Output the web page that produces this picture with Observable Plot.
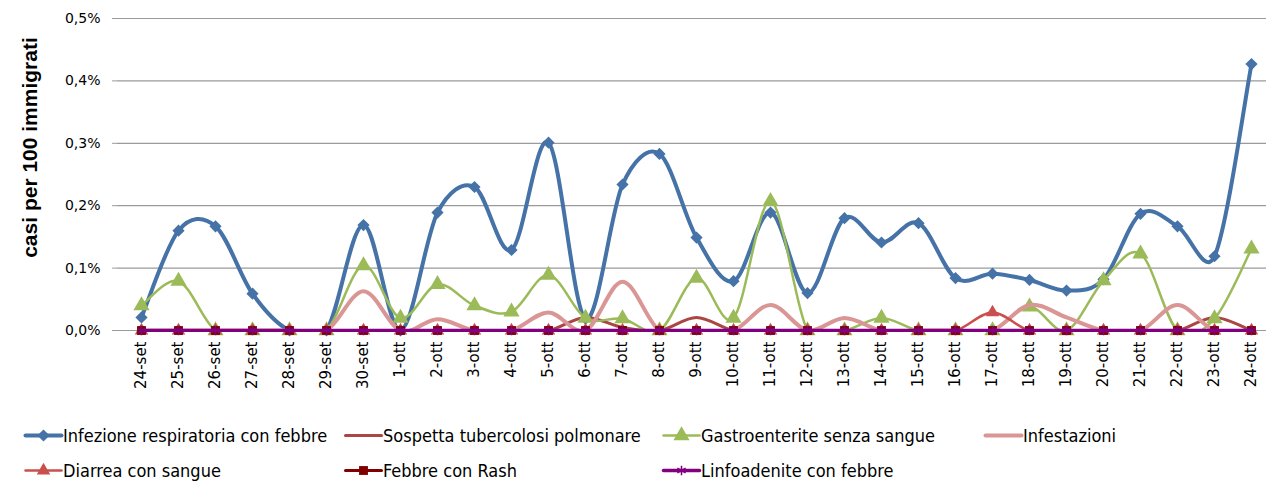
<!DOCTYPE html>
<html>
<head>
<meta charset="utf-8">
<script src="https://cdn.jsdelivr.net/npm/d3@7"></script>
<script src="https://cdn.jsdelivr.net/npm/@observablehq/plot@0.6"></script>
<style>
  html, body { margin: 0; padding: 0; background: #fff; }
  #wrap { position: relative; width: 1266px; height: 481px; overflow: hidden; }
  #chart { position: absolute; left: 0; top: 0; }
  .leg { position: absolute; display: flex; align-items: center; font-family: "Liberation Sans Narrow", "DejaVu Sans Condensed", "Liberation Sans", sans-serif; font-size: 18px; color: #000; white-space: nowrap; }
  .leg svg { margin-right: 2px; }
</style>
</head>
<body>
<div id="wrap">
  <div id="chart"></div>
  <div id="legend"></div>
</div>
<script>
const dates = ["24-set","25-set","26-set","27-set","28-set","29-set","30-set",
  "1-ott","2-ott","3-ott","4-ott","5-ott","6-ott","7-ott","8-ott","9-ott","10-ott",
  "11-ott","12-ott","13-ott","14-ott","15-ott","16-ott","17-ott","18-ott","19-ott","20-ott",
  "21-ott","22-ott","23-ott","24-ott"];

const infezione = [0.021,0.160,0.167,0.059,0,0,0.169,0,0.189,0.230,0.129,0.301,0.019,0.234,0.283,0.149,0.079,0.189,0.060,0.180,0.141,0.172,0.084,0.091,0.081,0.064,0.082,0.187,0.167,0.119,0.427];
const tubercolosi = [0,0,0,0,0,0,0,0,0,0,0,0,0.021,0.005,0,0.021,0,0,0,0,0,0,0,0,0,0,0,0,0,0.021,0];
const gastro = [0.040,0.079,0,0,0,0,0.104,0.020,0.074,0.040,0.030,0.089,0.020,0.019,0,0.084,0.020,0.207,0,0,0.020,0,0,0,0.038,0,0.080,0.123,0,0.019,0.131];
const infestazioni = [0,0,0,0,0,0,0.063,0,0.018,0,0,0.029,0,0.078,0,0,0,0.041,0,0.020,0,0,0,0,0.041,0.021,0,0,0.041,0,0];
const diarrea = [0,0,0,0,0,0,0,0,0,0,0,0,0,0,0,0,0,0,0,0,0,0,0,0.029,0,0,0,0,0,0,0];
const febbreRash = [0,0,0,0,0,0,0,0,0,0,0,0,0,0,0,0,0,0,0,0,0,0,0,0,0,0,0,0,0,0,0];
const linfoadenite = [0,0,0,0,0,0,0,0,0,0,0,0,0,0,0,0,0,0,0,0,0,0,0,0,0,0,0,0,0,0,0];

const yTicks = [0, 0.1, 0.2, 0.3, 0.4, 0.5];

const series = [
  {name: "Infezione respiratoria con febbre", values: infezione, color: "#4572A7", width: 4, symbol: "diamond2", r: 5.5},
  {name: "Sospetta tubercolosi polmonare", values: tubercolosi, color: "#AA4643", width: 3, symbol: null},
  {name: "Gastroenterite senza sangue", values: gastro, color: "#9BBB59", width: 2.5, symbol: "triangle", r: 6},
  {name: "Infestazioni", values: infestazioni, color: "#D99694", width: 4, symbol: null},
  {name: "Diarrea con sangue", values: diarrea, color: "#C9504D", width: 2.5, symbol: "triangle", r: 5},
  {name: "Febbre con Rash", values: febbreRash, color: "#800000", width: 3, symbol: "square", r: 5},
  {name: "Linfoadenite con febbre", values: linfoadenite, color: "#800080", width: 3.5, symbol: "asterisk", r: 4.5}
];

// Excel-like smoothed line: cubic Bezier with control points (P2-P0)/6, capped at half the segment
function ExcelCurve(context) { this._context = context; }
ExcelCurve.prototype = {
  areaStart() {}, areaEnd() {},
  lineStart() { this._pts = []; },
  point(x, y) { this._pts.push([+x, +y]); },
  lineEnd() {
    const p = this._pts, c = this._context, n = p.length;
    if (!n) return;
    c.moveTo(p[0][0], p[0][1]);
    for (let i = 0; i < n - 1; i++) {
      const p0 = p[Math.max(i - 1, 0)], p1 = p[i], p2 = p[i + 1], p3 = p[Math.min(i + 2, n - 1)];
      const half = Math.hypot(p2[0] - p1[0], p2[1] - p1[1]) / 2;
      let ax = (p2[0] - p0[0]) / 6, ay = (p2[1] - p0[1]) / 6;
      let la = Math.hypot(ax, ay); if (la > half) { ax *= half / la; ay *= half / la; }
      let bx = (p3[0] - p1[0]) / 6, by = (p3[1] - p1[1]) / 6;
      let lb = Math.hypot(bx, by); if (lb > half) { bx *= half / lb; by *= half / lb; }
      c.bezierCurveTo(p1[0] + ax, p1[1] + ay, p2[0] - bx, p2[1] - by, p2[0], p2[1]);
    }
  }
};
const excelCurve = ctx => new ExcelCurve(ctx);

const marks = [
  Plot.ruleY(yTicks, {y: d => d, stroke: "#9a9a9a", strokeWidth: 1.2})
];

for (const s of series) {
  const rows = dates.map((d, i) => ({date: d, v: s.values[i]}));
  marks.push(Plot.line(rows, {x: "date", y: "v", stroke: s.color, strokeWidth: s.width, curve: excelCurve, clip: true}));
  if (s.symbol) {
    if (s.symbol === "asterisk") {
      marks.push(Plot.dot(rows, {x: "date", y: "v", symbol: "asterisk", r: s.r, stroke: s.color, strokeWidth: 1.5}));
    } else {
      marks.push(Plot.dot(rows, {x: "date", y: "v", symbol: s.symbol, r: s.r, fill: s.color, stroke: null}));
    }
  }
}

marks.push(
  Plot.axisY({ticks: yTicks, tickFormat: d => d.toFixed(1).replace(".", ",") + "%", tickSize: 5, tickPadding: 12, stroke: "#9a9a9a", fontSize: 14, fontFamily: "DejaVu Sans", color: "#000"}),
  Plot.axisX({tickSize: 0, tickRotate: -90, tickPadding: 9, fontSize: 15, fontFamily: "DejaVu Sans"}),
  Plot.text(["casi per 100 immigrati"], {frameAnchor: "top-left", dx: -95, dy: 129, rotate: -90, text: d => d, fontSize: 21, fontWeight: "bold", fontFamily: "Liberation Sans, Arial, sans-serif", textAnchor: "middle", fill: "#000"})
);

const chart = Plot.plot({
  width: 1266,
  height: 395,
  marginLeft: 117,
  marginRight: 0,
  marginTop: 18,
  marginBottom: 63,
  style: {fontFamily: "DejaVu Sans", background: "#fff", overflow: "visible"},
  x: {type: "point", domain: dates, range: [136, 1256], padding: 0, label: null},
  y: {domain: [0, 0.5], range: [330, 18], label: null},
  marks
});
document.getElementById("chart").appendChild(chart);

// Legend
const legendPos = [
  [25, 435], [345, 435], [663, 435], [985, 435],
  [25, 470], [345, 470], [663, 470]
];
const legend = document.getElementById("legend");
series.forEach((s, i) => {
  const [lx, ly] = legendPos[i];
  const div = document.createElement("div");
  div.className = "leg";
  div.style.left = lx + "px";
  div.style.top = (ly - 11) + "px";
  div.style.height = "22px";
  const sw = Plot.plot({
    width: 36, height: 14, margin: 0,
    x: {domain: [0, 1], range: [0, 36], axis: null},
    y: {domain: [0, 1], range: [14, 0], axis: null},
    style: {overflow: "visible", background: "transparent"},
    marks: [
      Plot.line([[0, 0.5], [1, 0.5]], {stroke: s.color, strokeWidth: s.width}),
      s.symbol ? (s.symbol === "asterisk"
        ? Plot.dot([[0.5, 0.5]], {symbol: "asterisk", r: s.r, stroke: s.color, strokeWidth: 1.5})
        : Plot.dot([[0.5, 0.5]], {symbol: s.symbol, r: s.r, fill: s.color, stroke: null})) : null
    ]
  });
  div.appendChild(sw);
  const span = document.createElement("span");
  span.textContent = s.name;
  div.appendChild(span);
  legend.appendChild(div);
});
</script>
</body>
</html>
